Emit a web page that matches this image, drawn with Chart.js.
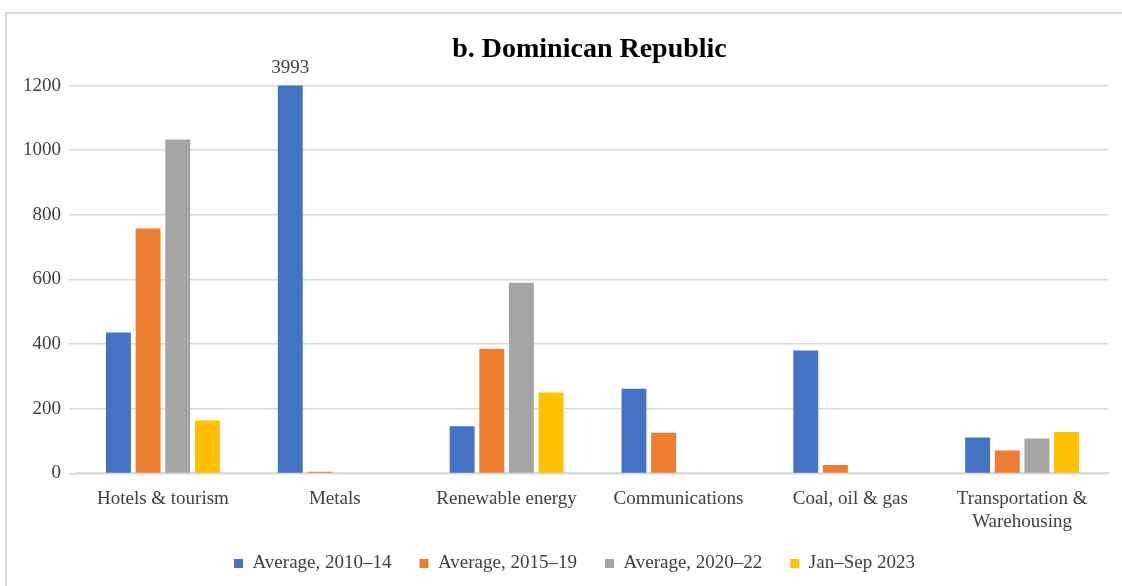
<!DOCTYPE html>
<html lang="en">
<head>
  <meta charset="UTF-8">
  <title>b. Dominican Republic</title>
  <script src="https://cdn.jsdelivr.net/npm/chart.js"></script>
  <style>
    body { margin: 0; background: #fff; }
    #frame {
      position: absolute; left: 5px; top: 12px; width: 1117px; height: 574px;
      border-left: 2px solid #d9d9d9; border-top: 2px solid #d9d9d9;
    }
  </style>
</head>
<body>
  <div id="frame"><canvas id="chart"></canvas></div>

  <script>
    const categories = ['Hotels & tourism', 'Metals', 'Renewable energy', 'Communications',
                        'Coal, oil & gas', ['Transportation &', 'Warehousing']];
    const seriesNames = ['Average, 2010\u201314', 'Average, 2015\u201319', 'Average, 2020\u201322', 'Jan\u2013Sep 2023'];
    const avg2010_14 = [436, 3993, 146, 262, 380, 111];
    const avg2015_19 = [758, 5, 386, 126, 26, 71];
    const avg2020_22 = [1033, 0, 590, 0, 0, 108];
    const janSep2023 = [164, 0, 250, 0, 0, 128];
    const yTicks = [0, 200, 400, 600, 800, 1000, 1200];

    const colors = ['#4472C4', '#ED7D31', '#A5A5A5', '#FFC000'];
    const serif = '"Liberation Serif", "DejaVu Serif", serif';

    // label for bars that run past the top of the axis (Metals, 3993)
    const overflowLabels = {
      id: 'overflowLabels',
      afterDatasetsDraw(chart) {
        const ctx = chart.ctx;
        const max = chart.scales.y.max;
        ctx.save();
        ctx.font = '19px ' + serif;
        ctx.fillStyle = '#404040';
        ctx.textAlign = 'center';
        ctx.textBaseline = 'middle';
        chart.data.datasets.forEach((ds, i) => {
          chart.getDatasetMeta(i).data.forEach((bar, j) => {
            if (ds.data[j] > max) {
              ctx.fillText(String(ds.data[j]), bar.x, chart.chartArea.top - 18);
            }
          });
        });
        ctx.restore();
      }
    };

    // legend keeps wide item spacing but takes less vertical room;
    // title and legend nudged right like the original
    const LEGEND_TRIM = 13;
    const boxTweaks = {
      id: 'boxTweaks',
      beforeLayout(chart) {
        const lg = chart.legend;
        if (lg && !lg._trimmed) {
          const fit = lg.fit.bind(lg);
          lg.fit = function () { fit(); this.height -= LEGEND_TRIM; };
          lg._trimmed = true;
        }
      },
      afterLayout(chart) {
        const lg = chart.legend;
        lg.top -= LEGEND_TRIM;
        lg.left += 13;
        lg.right += 13;
        const t = chart.titleBlock;
        t.left += 28;
        t.right += 28;
      }
    };

    const seriesData = [avg2010_14, avg2015_19, avg2020_22, janSep2023];

    new Chart(document.getElementById('chart'), {
      type: 'bar',
      data: {
        labels: categories,
        datasets: seriesNames.map((name, i) => ({
          label: name,
          data: seriesData[i],
          backgroundColor: colors[i],
          barPercentage: 0.84,
          categoryPercentage: 0.69
        }))
      },
      options: {
        responsive: true,
        maintainAspectRatio: false,
        animation: false,
        layout: { padding: { left: 8, right: 16, top: 0, bottom: 5 } },
        plugins: {
          title: {
            display: true,
            text: 'b. Dominican Republic',
            color: '#000',
            font: { family: serif, size: 28, weight: 'bold' },
            padding: { top: 19, bottom: 19 }
          },
          legend: {
            position: 'bottom',
            labels: {
              color: '#404040',
              font: { family: serif, size: 19 },
              boxWidth: 9,
              boxHeight: 9,
              padding: 28
            }
          },
          tooltip: { enabled: false }
        },
        scales: {
          x: {
            grid: { display: false },
            border: { color: '#d9d9d9', width: 2 },
            ticks: { color: '#404040', font: { family: serif, size: 19 }, maxRotation: 0, padding: 6 }
          },
          y: {
            min: 0,
            max: 1200,
            afterBuildTicks: axis => { axis.ticks = yTicks.map(v => ({ value: v })); },
            grid: { color: '#d9d9d9', lineWidth: 1.5 },
            border: { display: false },
            ticks: { color: '#404040', font: { family: serif, size: 19 }, padding: 8,
                     callback: v => String(v) }
          }
        }
      },
      plugins: [overflowLabels, boxTweaks]
    });
  </script>
</body>
</html>
